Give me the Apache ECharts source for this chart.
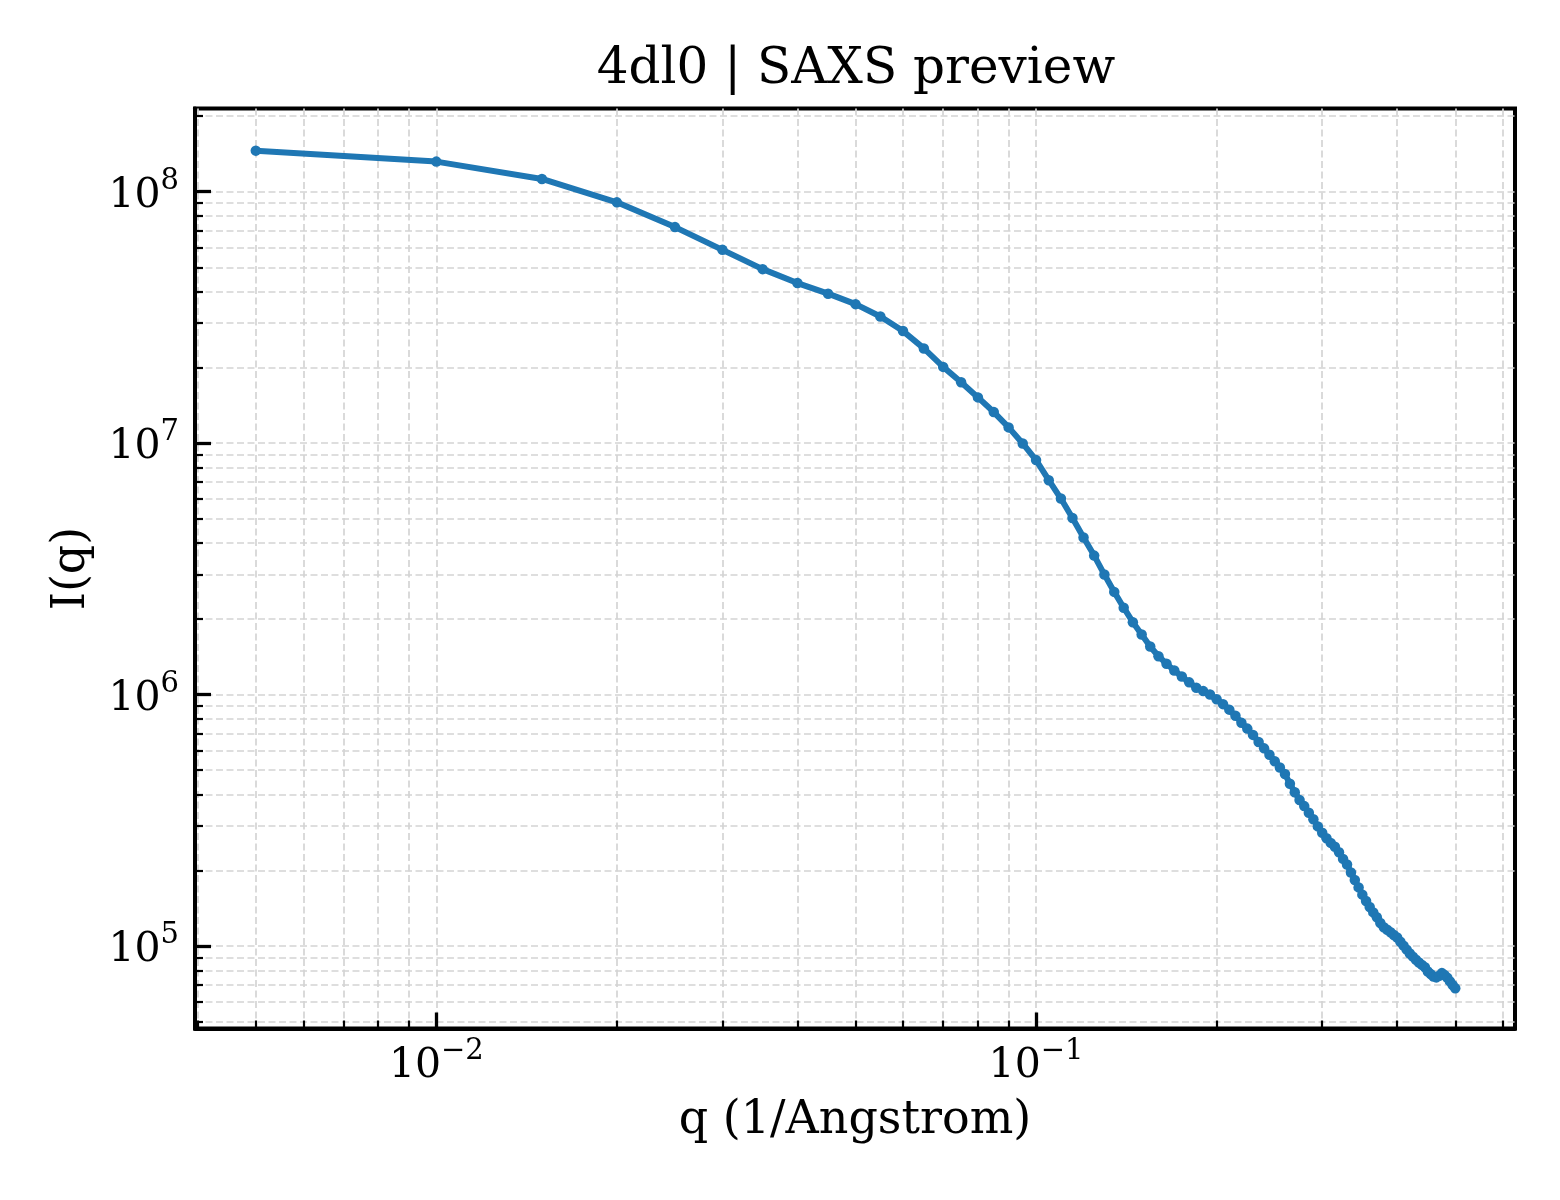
<!DOCTYPE html>
<html>
<head>
<meta charset="utf-8">
<script src="https://cdn.jsdelivr.net/npm/echarts@6/dist/echarts.min.js"></script>
<style>
html,body{margin:0;padding:0;background:#fff;}
#chart{width:1560px;height:1200px;}
</style>
</head>
<body>
<div id="chart"></div>
<script>
const qValues = [0.005,0.010,0.015,0.020,0.025,0.030,0.035,0.040,0.045,0.050,0.055,0.060,0.065,0.070,0.075,0.080,0.085,0.090,0.095,0.100,0.105,0.110,0.115,0.120,0.125,0.130,0.135,0.140,0.145,0.150,0.155,0.160,0.165,0.170,0.175,0.180,0.185,0.190,0.195,0.200,0.205,0.210,0.215,0.220,0.225,0.230,0.235,0.240,0.245,0.250,0.255,0.260,0.265,0.270,0.275,0.280,0.285,0.290,0.295,0.300,0.305,0.310,0.315,0.320,0.325,0.330,0.335,0.340,0.345,0.350,0.355,0.360,0.365,0.370,0.375,0.380,0.385,0.390,0.395,0.400,0.405,0.410,0.415,0.420,0.425,0.430,0.435,0.440,0.445,0.450,0.455,0.460,0.465,0.470,0.475,0.480,0.485,0.490,0.495,0.500];
const intensity = [1.456e8,1.317e8,1.124e8,9.07e7,7.23e7,5.87e7,4.92e7,4.33e7,3.93e7,3.57e7,3.19e7,2.79e7,2.38e7,2.01e7,1.745e7,1.52e7,1.329e7,1.155e7,9.97e6,8.56e6,7.12e6,6.02e6,5.04e6,4.21e6,3.57e6,3.00e6,2.56e6,2.215e6,1.94e6,1.734e6,1.553e6,1.421e6,1.326e6,1.246e6,1.180e6,1.118e6,1.064e6,1.032e6,1.001e6,9.58e5,9.16e5,8.71e5,8.24e5,7.73e5,7.32e5,6.91e5,6.48e5,6.11e5,5.76e5,5.43e5,5.13e5,4.83e5,4.42e5,4.09e5,3.81e5,3.60e5,3.39e5,3.19e5,2.99e5,2.82e5,2.68e5,2.57e5,2.48e5,2.36e5,2.22e5,2.11e5,1.96e5,1.83e5,1.71e5,1.60e5,1.51e5,1.43e5,1.36e5,1.30e5,1.235e5,1.188e5,1.160e5,1.134e5,1.106e5,1.080e5,1.040e5,1.003e5,9.67e4,9.34e4,9.07e4,8.81e4,8.60e4,8.41e4,8.23e4,7.92e4,7.73e4,7.56e4,7.50e4,7.61e4,7.80e4,7.66e4,7.48e4,7.23e4,7.00e4,6.79e4];
const xMajorTicks = [0.01, 0.1];
const xMinorTicks = [0.004,0.005,0.006,0.007,0.008,0.009,0.02,0.03,0.04,0.05,0.06,0.07,0.08,0.09,0.2,0.3,0.4,0.5,0.6];
const yMajorTicks = [1e5, 1e6, 1e7, 1e8];
const yMinorTicks = [5e4,6e4,7e4,8e4,9e4,2e5,3e5,4e5,5e5,6e5,7e5,8e5,9e5,2e6,3e6,4e6,5e6,6e6,7e6,8e6,9e6,2e7,3e7,4e7,5e7,6e7,7e7,8e7,9e7,2e8];
const titleText = '4dl0 | SAXS preview';
const xName = 'q (1/Angstrom)';
const yName = 'I(q)';

const FONT = 'DejaVu Serif';
const xRange = [0.003959, 0.6289];
const yRange = [4.697e4, 2.142e8];

const gridLine = {show: true, lineStyle: {color: '#d4d4d4', width: 1.7, type: [7, 3.5]}};
function powLabel(v) {
  const e = Math.round(Math.log10(v));
  const s = e < 0 ? '\u2212' + Math.abs(e) : String(e);
  return '{b|10}{s|' + s + '}';
}
const rich = {
  b: {fontFamily: FONT, fontSize: 41, color: '#000', lineHeight: 50, verticalAlign: 'bottom'},
  s: {fontFamily: FONT, fontSize: 29, color: '#000', lineHeight: 50, verticalAlign: 'top'}
};

const seriesData = qValues.map((q, i) => [q, intensity[i]]);

const chart = echarts.init(document.getElementById('chart'), null, {renderer: 'canvas'});
chart.setOption({
  animation: false,
  backgroundColor: '#fff',
  title: {
    text: titleText, left: 851, top: 40, textAlign: 'center',
    textStyle: {fontFamily: FONT, fontSize: 50, fontWeight: 'normal', color: '#000'}
  },
  grid: {left: 195, right: 45, top: 108.5, bottom: 171.5, show: true, borderColor: '#000', borderWidth: 4, backgroundColor: 'transparent'},
  xAxis: [
    {
      type: 'log', logBase: 10, min: xRange[0], max: xRange[1], position: 'bottom',
      name: xName, nameLocation: 'middle', nameGap: 70,
      nameTextStyle: {fontFamily: FONT, fontSize: 46, color: '#000'},
      axisLine: {show: true, lineStyle: {color: '#000', width: 4}},
      axisTick: {show: true, inside: true, length: 16, lineStyle: {color: '#000', width: 3.3}, customValues: xMajorTicks},
      axisLabel: {show: true, margin: 8, customValues: xMajorTicks, formatter: powLabel, rich: rich},
      splitLine: gridLine, minorTick: {show: false}, minorSplitLine: {show: false}
    },
    {
      type: 'log', logBase: 10, min: xRange[0], max: xRange[1], position: 'bottom',
      axisLine: {show: false},
      axisTick: {show: true, inside: true, length: 8, lineStyle: {color: '#000', width: 2.2}, customValues: xMinorTicks},
      axisLabel: {show: false},
      splitLine: gridLine
    }
  ],
  yAxis: [
    {
      type: 'log', logBase: 10, min: yRange[0], max: yRange[1], position: 'left',
      name: yName, nameLocation: 'middle', nameGap: 100, nameRotate: 90,
      nameTextStyle: {fontFamily: FONT, fontSize: 46, color: '#000'},
      axisLine: {show: true, lineStyle: {color: '#000', width: 4}},
      axisTick: {show: true, inside: true, length: 16, lineStyle: {color: '#000', width: 3.3}, customValues: yMajorTicks},
      axisLabel: {show: true, margin: 16, customValues: yMajorTicks, formatter: powLabel, rich: rich},
      splitLine: gridLine
    },
    {
      type: 'log', logBase: 10, min: yRange[0], max: yRange[1], position: 'left',
      axisLine: {show: false},
      axisTick: {show: true, inside: true, length: 8, lineStyle: {color: '#000', width: 2.2}, customValues: yMinorTicks},
      axisLabel: {show: false},
      splitLine: gridLine
    }
  ],
  series: [{
    type: 'line', xAxisIndex: 0, yAxisIndex: 0, data: seriesData,
    symbol: 'circle', symbolSize: 10.5, showSymbol: true,
    itemStyle: {color: '#1f77b4'},
    lineStyle: {color: '#1f77b4', width: 6},
    z: 5
  }]
});
</script>
</body>
</html>
